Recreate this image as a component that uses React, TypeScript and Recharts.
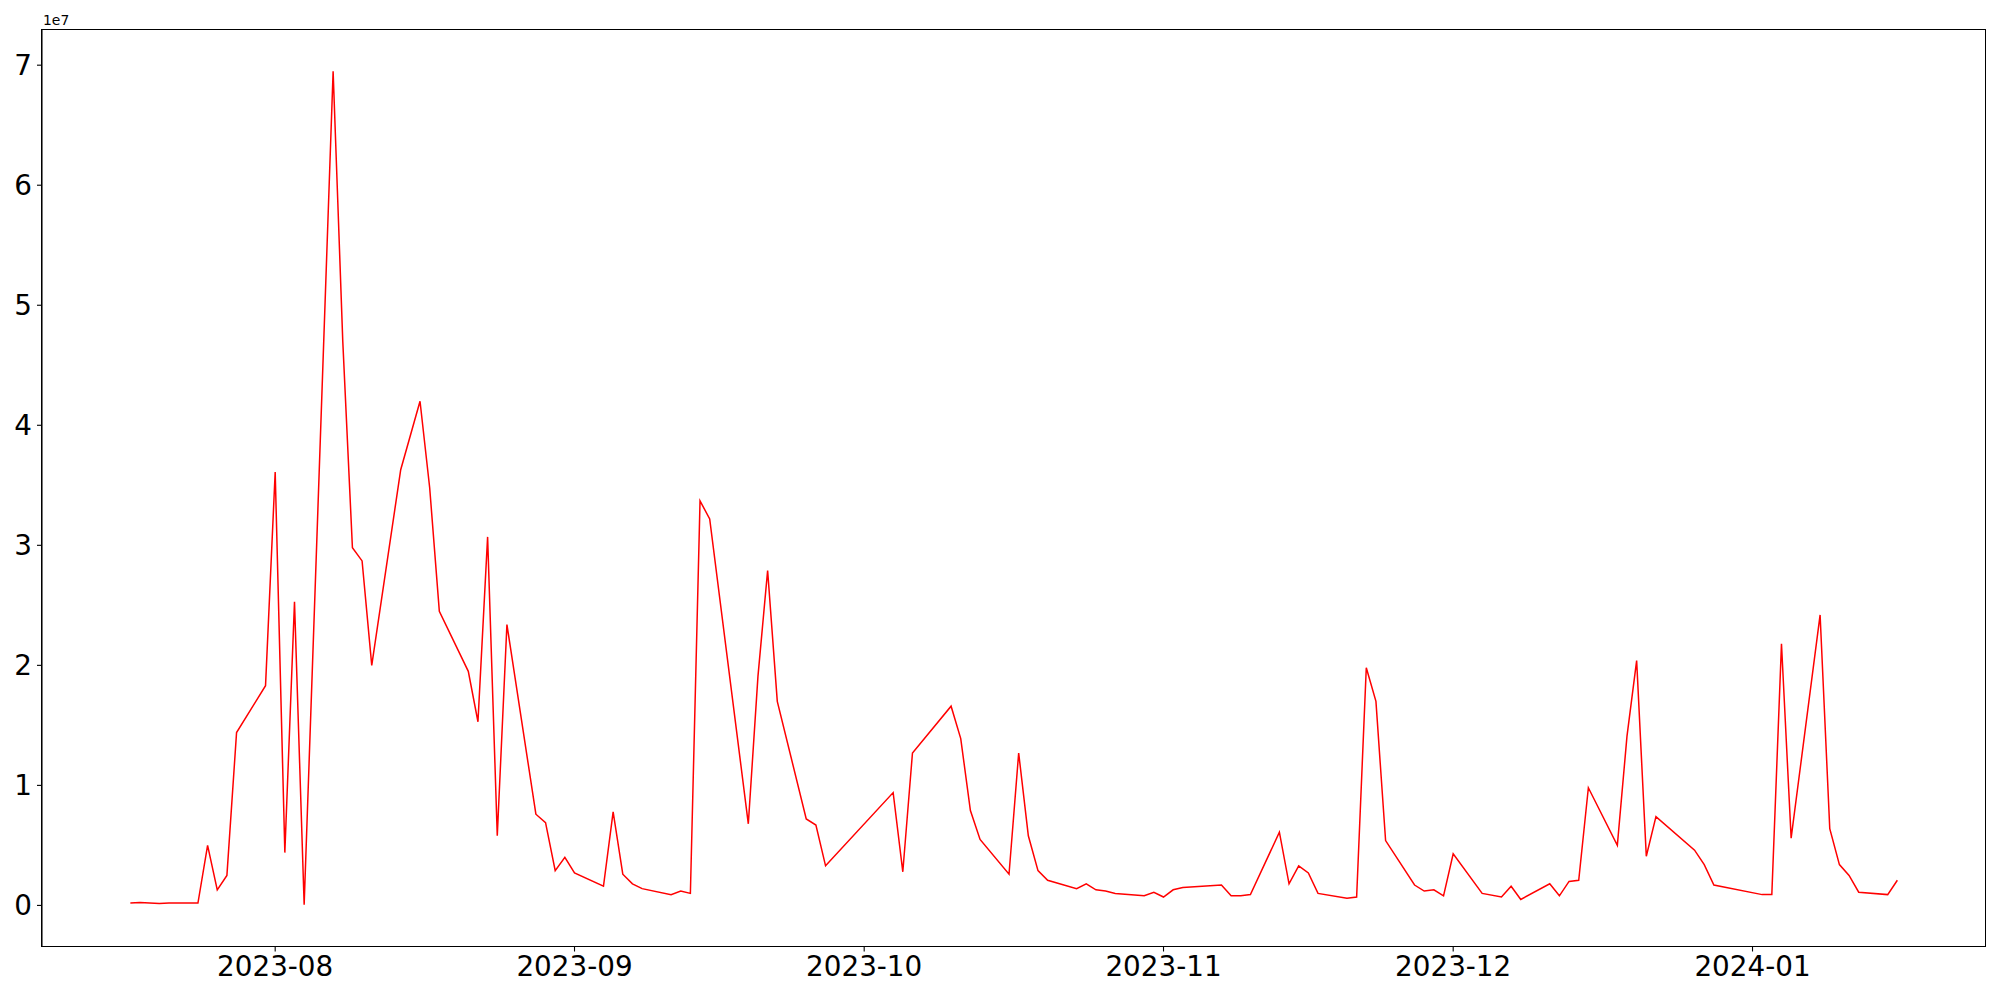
import React from "react";
import { LineChart, Line, XAxis, YAxis } from "recharts";

// trading days (gaps = weekends / holidays) and daily volume
const dates = [
  "2023-07-17", "2023-07-18", "2023-07-20", "2023-07-21", "2023-07-24", "2023-07-25", "2023-07-26",
  "2023-07-27", "2023-07-28", "2023-07-31", "2023-08-01", "2023-08-02", "2023-08-03", "2023-08-04",
  "2023-08-07", "2023-08-08", "2023-08-09", "2023-08-10", "2023-08-11", "2023-08-14", "2023-08-16",
  "2023-08-17", "2023-08-18", "2023-08-21", "2023-08-22", "2023-08-23", "2023-08-24", "2023-08-25",
  "2023-08-28", "2023-08-29", "2023-08-30", "2023-08-31", "2023-09-01", "2023-09-04", "2023-09-05",
  "2023-09-06", "2023-09-07", "2023-09-08", "2023-09-11", "2023-09-12", "2023-09-13", "2023-09-14",
  "2023-09-15", "2023-09-19", "2023-09-20", "2023-09-21", "2023-09-22", "2023-09-25", "2023-09-26",
  "2023-09-27", "2023-10-04", "2023-10-05", "2023-10-06", "2023-10-10", "2023-10-11", "2023-10-12",
  "2023-10-13", "2023-10-16", "2023-10-17", "2023-10-18", "2023-10-19", "2023-10-20", "2023-10-23",
  "2023-10-24", "2023-10-25", "2023-10-26", "2023-10-27", "2023-10-30", "2023-10-31", "2023-11-01",
  "2023-11-02", "2023-11-03", "2023-11-07", "2023-11-08", "2023-11-09", "2023-11-10", "2023-11-13",
  "2023-11-14", "2023-11-15", "2023-11-16", "2023-11-17", "2023-11-20", "2023-11-21", "2023-11-22",
  "2023-11-23", "2023-11-24", "2023-11-27", "2023-11-28", "2023-11-29", "2023-11-30", "2023-12-01",
  "2023-12-04", "2023-12-06", "2023-12-07", "2023-12-08", "2023-12-11", "2023-12-12", "2023-12-13",
  "2023-12-14", "2023-12-15", "2023-12-18", "2023-12-19", "2023-12-20", "2023-12-21", "2023-12-22",
  "2023-12-26", "2023-12-27", "2023-12-28", "2024-01-02", "2024-01-03", "2024-01-04", "2024-01-05",
  "2024-01-08", "2024-01-09", "2024-01-10", "2024-01-11", "2024-01-12", "2024-01-15", "2024-01-16",
];

const volumes = [
  200000, 250000, 150000, 200000, 200000, 5000000, 1300000,
  2500000, 14400000, 18300000, 36100000, 4400000, 25300000, 50000,
  69500000, 47000000, 29800000, 28700000, 20000000, 36300000, 42000000,
  34800000, 24500000, 19500000, 15300000, 30700000, 5800000, 23400000,
  7600000, 6900000, 2900000, 4000000, 2700000, 1600000, 7800000,
  2600000, 1800000, 1400000, 900000, 1200000, 1000000, 33700000,
  32200000, 6800000, 19100000, 27900000, 17000000, 7200000, 6700000,
  3300000, 9400000, 2800000, 12700000, 16600000, 13900000, 7900000,
  5500000, 2600000, 12700000, 5800000, 2900000, 2100000, 1400000,
  1800000, 1300000, 1200000, 1000000, 800000, 1100000, 700000,
  1300000, 1500000, 1700000, 800000, 800000, 900000, 6100000,
  1800000, 3300000, 2700000, 1000000, 600000, 700000, 19800000,
  17000000, 5400000, 1700000, 1200000, 1300000, 800000, 4300000,
  1000000, 700000, 1600000, 500000, 1800000, 800000, 2000000,
  2100000, 9800000, 5000000, 14100000, 20400000, 4100000, 7400000,
  4600000, 3400000, 1700000, 900000, 900000, 21800000, 5600000,
  24200000, 6400000, 3400000, 2500000, 1100000, 900000, 2100000,
];

const monthTicks = ["2023-08-01", "2023-09-01", "2023-10-01", "2023-11-01", "2023-12-01", "2024-01-01"];
const yTicks = [0, 1e7, 2e7, 3e7, 4e7, 5e7, 6e7, 7e7];

const toMs = (d: string) => new Date(d + "T00:00:00Z").getTime();

const data = dates.map((d, i) => ({ t: toMs(d), v: volumes[i] }));

// matplotlib-style 5% margins
const pad = (lo: number, hi: number): [number, number] => {
  const m = (hi - lo) * 0.05;
  return [lo - m, hi + m];
};
const xDomain = pad(data[0].t, data[data.length - 1].t);
const yDomain = pad(Math.min(...volumes), Math.max(...volumes));

const fmtMonth = (ms: number) => {
  const d = new Date(ms);
  return `${d.getUTCFullYear()}-${String(d.getUTCMonth() + 1).padStart(2, "0")}`;
};

const font = "DejaVu Sans";
const tickStyle = { fontSize: 27.8, fill: "#000", fontFamily: font };

// plot box (matches chart margins below)
const W = 2000, H = 1000;
const M = { top: 29.5, right: 14.3, bottom: 0, left: 0 };
const Y_AXIS_W = 42;
const X_AXIS_H = 53.5;

export default function App() {
  const boxLeft = M.left + Y_AXIS_W;
  const boxTop = M.top;
  const boxW = W - M.right - boxLeft;
  const boxH = H - M.bottom - X_AXIS_H - boxTop;
  return (
    <div style={{ position: "absolute", left: 0, top: 0, width: W, height: H, background: "#fff", fontFamily: font }}>
      <LineChart width={W} height={H} data={data} margin={M}>
        <XAxis
          dataKey="t"
          type="number"
          domain={xDomain}
          allowDataOverflow
          ticks={monthTicks.map(toMs)}
          tickFormatter={fmtMonth}
          interval={0}
          height={X_AXIS_H}
          tick={tickStyle}
          tickSize={5}
          tickMargin={5}
          tickLine={{ stroke: "#000", strokeWidth: 1.1 }}
          axisLine={{ stroke: "#000", strokeWidth: 1.1 }}
        />
        <YAxis
          type="number"
          domain={yDomain}
          allowDataOverflow
          ticks={yTicks}
          tickFormatter={(v: number) => String(Math.round(v / 1e7))}
          interval={0}
          width={Y_AXIS_W}
          tick={tickStyle}
          tickSize={5}
          tickMargin={5}
          tickLine={{ stroke: "#000", strokeWidth: 1.1 }}
          axisLine={{ stroke: "#000", strokeWidth: 1.1 }}
        />
        <Line type="linear" dataKey="v" stroke="#ff0000" strokeWidth={1.5} dot={false} isAnimationActive={false} />
      </LineChart>
      <div
        style={{
          position: "absolute",
          left: boxLeft - 0.55,
          top: boxTop - 0.55,
          width: boxW + 1.1,
          height: boxH + 1.1,
          border: "1.1px solid #000",
          boxSizing: "border-box",
          pointerEvents: "none",
        }}
      />
      <div style={{ position: "absolute", left: 43, top: 14, fontSize: 13.9, lineHeight: 1 }}>1e7</div>
    </div>
  );
}
